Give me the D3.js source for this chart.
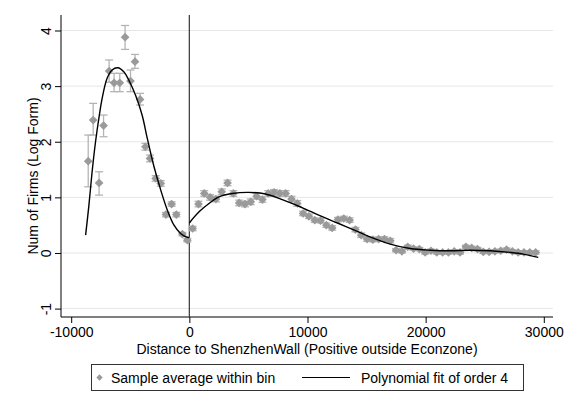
<!DOCTYPE html>
<html>
<head>
<meta charset="utf-8">
<script src="https://cdn.jsdelivr.net/npm/d3@7"></script>
<style>
  body { margin: 0; background: #fff; }
  text { font-family: "Liberation Sans", Arial, sans-serif; fill: #000; }
</style>
</head>
<body>
<script>
// bin averages left of the wall (inside the zone)
var leftX = [-8560, -8140, -7640, -7260, -6790, -6370, -5890, -5440, -4980, -4600,
  -4170, -3720, -3330, -2850, -2420, -1980, -1500, -1100, -590, -170];
var leftY = [1.65, 2.39, 1.26, 2.29, 3.27, 3.06, 3.06, 3.88, 3.09, 3.44,
  2.76, 1.91, 1.70, 1.34, 1.25, 0.69, 0.88, 0.69, 0.34, 0.23];
var leftLo = [1.19, 2.12, 1.04, 2.09, 3.07, 2.90, 2.90, 3.66, 2.90, 3.32,
  2.66, 1.85, 1.64, 1.29, 1.20, 0.65, 0.84, 0.65, 0.31, 0.20];
var leftHi = [2.12, 2.69, 1.46, 2.48, 3.47, 3.23, 3.23, 4.09, 3.29, 3.57,
  2.87, 1.97, 1.76, 1.39, 1.30, 0.73, 0.92, 0.73, 0.37, 0.26];

// bin averages right of the wall (outside the zone)
var rightX = [280, 772, 1264, 1756, 2248, 2740, 3232, 3724, 4216, 4708,
  5200, 5692, 6184, 6676, 7168, 7660, 8152, 8644, 9136, 9628,
  10120, 10612, 11104, 11596, 12088, 12580, 13072, 13564, 14056, 14548,
  15040, 15532, 16024, 16516, 17008, 17500, 17992, 18484, 18976, 19468,
  19960, 20452, 20944, 21436, 21928, 22420, 22912, 23404, 23896, 24388,
  24880, 25372, 25864, 26356, 26848, 27340, 27832, 28324, 28816, 29308];
var rightY = [0.44, 0.88, 1.07, 1.00, 0.97, 1.10, 1.26, 1.07, 0.90, 0.88,
  0.92, 1.02, 0.96, 1.07, 1.09, 1.07, 1.07, 0.97, 0.89, 0.71,
  0.66, 0.59, 0.58, 0.50, 0.45, 0.60, 0.62, 0.59, 0.42, 0.32,
  0.25, 0.24, 0.25, 0.25, 0.22, 0.05, 0.03, 0.11, 0.08, 0.07,
  0.01, 0.04, 0.01, 0.01, 0.01, 0.03, 0.01, 0.11, 0.09, 0.07,
  0.02, 0.02, 0.03, 0.04, 0.06, 0.03, 0.01, 0.01, 0.01, 0.01];
var rightSe = [0.04, 0.05, 0.05, 0.05, 0.05, 0.05, 0.05, 0.05, 0.05, 0.05,
  0.05, 0.05, 0.05, 0.05, 0.05, 0.05, 0.05, 0.05, 0.05, 0.04,
  0.04, 0.04, 0.04, 0.04, 0.04, 0.04, 0.04, 0.04, 0.04, 0.04,
  0.04, 0.04, 0.04, 0.04, 0.04, 0.03, 0.03, 0.03, 0.03, 0.03,
  0.03, 0.03, 0.03, 0.03, 0.03, 0.03, 0.03, 0.03, 0.03, 0.03,
  0.03, 0.03, 0.03, 0.03, 0.03, 0.03, 0.03, 0.03, 0.03, 0.03];

// order-4 fits
var fitLeftX = [-8780, -8500, -8230, -7940, -7660, -7380, -6960, -6540, -6060, -5550,
  -5130, -4560, -4000, -3550, -2990, -2420, -1860, -1300, -740, -170, -30];
var fitLeftY = [0.32, 0.86, 1.46, 2.00, 2.42, 2.78, 3.14, 3.29, 3.33, 3.26,
  3.11, 2.84, 2.48, 2.05, 1.55, 1.13, 0.77, 0.50, 0.35, 0.28, 0.28];
var fitRightX = [0, 820, 1660, 2510, 3630, 5030, 6440, 7860, 9260, 10950,
  12640, 14320, 15400, 17000, 18690, 20380, 22070, 23760, 25450, 27140, 28260, 29530];
var fitRightY = [0.54, 0.74, 0.89, 1.01, 1.07, 1.09, 1.06, 0.96, 0.84, 0.68,
  0.53, 0.38, 0.28, 0.16, 0.08, 0.05, 0.04, 0.05, 0.04, 0.01, -0.02, -0.08];

var xTicks = [-10000, 0, 10000, 20000, 30000];
var yTicks = [-1, 0, 1, 2, 3, 4];

var width = 573, height = 402;
var plot = { left: 61, right: 553, top: 15, bottom: 317 };

var x = d3.scaleLinear().domain([-10000, 30000]).range([71.2, 543.8]);
var y = d3.scaleLinear().domain([-1, 4]).range([308.6, 30.5]);

// plain hyphen minus, like the original
var plainFormat = function(d) { return String(d); };

var svg = d3.select("body").append("svg")
  .attr("width", width)
  .attr("height", height);

// grid
svg.append("g").selectAll("line").data(yTicks).enter().append("line")
  .attr("x1", plot.left).attr("x2", plot.right)
  .attr("y1", function(d) { return y(d); })
  .attr("y2", function(d) { return y(d); })
  .attr("stroke", "#e6e6e6").attr("stroke-width", 1);

// y axis
var yAxis = svg.append("g")
  .attr("transform", "translate(" + plot.left + ",0)")
  .call(d3.axisLeft(y).tickValues(yTicks).tickFormat(plainFormat).tickSize(6).tickSizeOuter(0));
yAxis.select(".domain").remove();
yAxis.append("line").attr("x1", 0).attr("x2", 0)
  .attr("y1", plot.top).attr("y2", plot.bottom)
  .attr("stroke", "#000");
yAxis.selectAll(".tick text")
  .attr("x", 0).attr("dy", 0)
  .attr("transform", "translate(-10,0) rotate(-90)")
  .style("text-anchor", "middle")
  .style("font-size", "14px")
  .style("font-family", "Liberation Sans, Arial, sans-serif");
yAxis.selectAll(".tick line").attr("stroke", "#000");

// x axis
var xAxis = svg.append("g")
  .attr("transform", "translate(0," + plot.bottom + ")")
  .call(d3.axisBottom(x).tickValues(xTicks).tickFormat(plainFormat).tickSize(6).tickPadding(4));
xAxis.select(".domain").remove();
xAxis.append("line").attr("x1", plot.left).attr("x2", plot.right)
  .attr("y1", 0).attr("y2", 0).attr("stroke", "#000");
xAxis.selectAll(".tick text")
  .style("font-size", "14px")
  .style("font-family", "Liberation Sans, Arial, sans-serif");

// axis titles
svg.append("text")
  .attr("x", (plot.left + plot.right) / 2)
  .attr("y", 354)
  .style("text-anchor", "middle")
  .style("font-size", "14px")
  .text("Distance to ShenzhenWall (Positive outside Econzone)");

svg.append("text")
  .attr("transform", "translate(38,176) rotate(-90)")
  .style("text-anchor", "middle")
  .style("font-size", "14px")
  .text("Num of Firms (Log Form)");

// wall line
svg.append("line")
  .attr("x1", x(0)).attr("x2", x(0))
  .attr("y1", plot.top).attr("y2", plot.bottom)
  .attr("stroke", "#444").attr("stroke-width", 1.3);

// merge bins
var bins = [];
leftX.forEach(function(v, i) {
  bins.push({ x: v, y: leftY[i], lo: leftLo[i], hi: leftHi[i] });
});
rightX.forEach(function(v, i) {
  bins.push({ x: v, y: rightY[i], lo: rightY[i] - rightSe[i], hi: rightY[i] + rightSe[i] });
});

// error bars
var eb = svg.append("g").attr("stroke", "#b4b4b4").attr("stroke-width", 1.3).attr("fill", "none");
var capW = 4;
bins.forEach(function(d) {
  var cx = x(d.x);
  eb.append("line").attr("x1", cx).attr("x2", cx).attr("y1", y(d.lo)).attr("y2", y(d.hi));
  eb.append("line").attr("x1", cx - capW).attr("x2", cx + capW).attr("y1", y(d.lo)).attr("y2", y(d.lo));
  eb.append("line").attr("x1", cx - capW).attr("x2", cx + capW).attr("y1", y(d.hi)).attr("y2", y(d.hi));
});

// markers
var diamond = d3.symbol().type(d3.symbolSquare).size(38);
svg.append("g").selectAll("path").data(bins).enter().append("path")
  .attr("d", diamond)
  .attr("transform", function(d) { return "translate(" + x(d.x) + "," + y(d.y) + ") rotate(45)"; })
  .attr("fill", "#9a9a9a");

// fitted lines
var line = d3.line()
  .x(function(d) { return x(d[0]); })
  .y(function(d) { return y(d[1]); })
  .curve(d3.curveCatmullRom);

svg.append("path")
  .datum(d3.zip(fitLeftX, fitLeftY))
  .attr("d", line)
  .attr("fill", "none").attr("stroke", "#000").attr("stroke-width", 1.4);

svg.append("path")
  .datum(d3.zip(fitRightX, fitRightY))
  .attr("d", line)
  .attr("fill", "none").attr("stroke", "#000").attr("stroke-width", 1.4);

// legend
var leg = svg.append("g");
leg.append("rect")
  .attr("x", 91.5).attr("y", 364.5).attr("width", 432).attr("height", 26)
  .attr("fill", "#fff").attr("stroke", "#333").attr("stroke-width", 1);
leg.append("path")
  .attr("d", d3.symbol().type(d3.symbolSquare).size(20))
  .attr("transform", "translate(99.5,377.5) rotate(45)")
  .attr("fill", "#9a9a9a");
leg.append("text").attr("x", 111).attr("y", 382.5)
  .style("font-size", "14px").text("Sample average within bin");
leg.append("line")
  .attr("x1", 302).attr("x2", 350).attr("y1", 377.5).attr("y2", 377.5)
  .attr("stroke", "#000").attr("stroke-width", 1.2);
leg.append("text").attr("x", 361).attr("y", 382.5)
  .style("font-size", "14px").text("Polynomial fit of order 4");
</script>
</body>
</html>
